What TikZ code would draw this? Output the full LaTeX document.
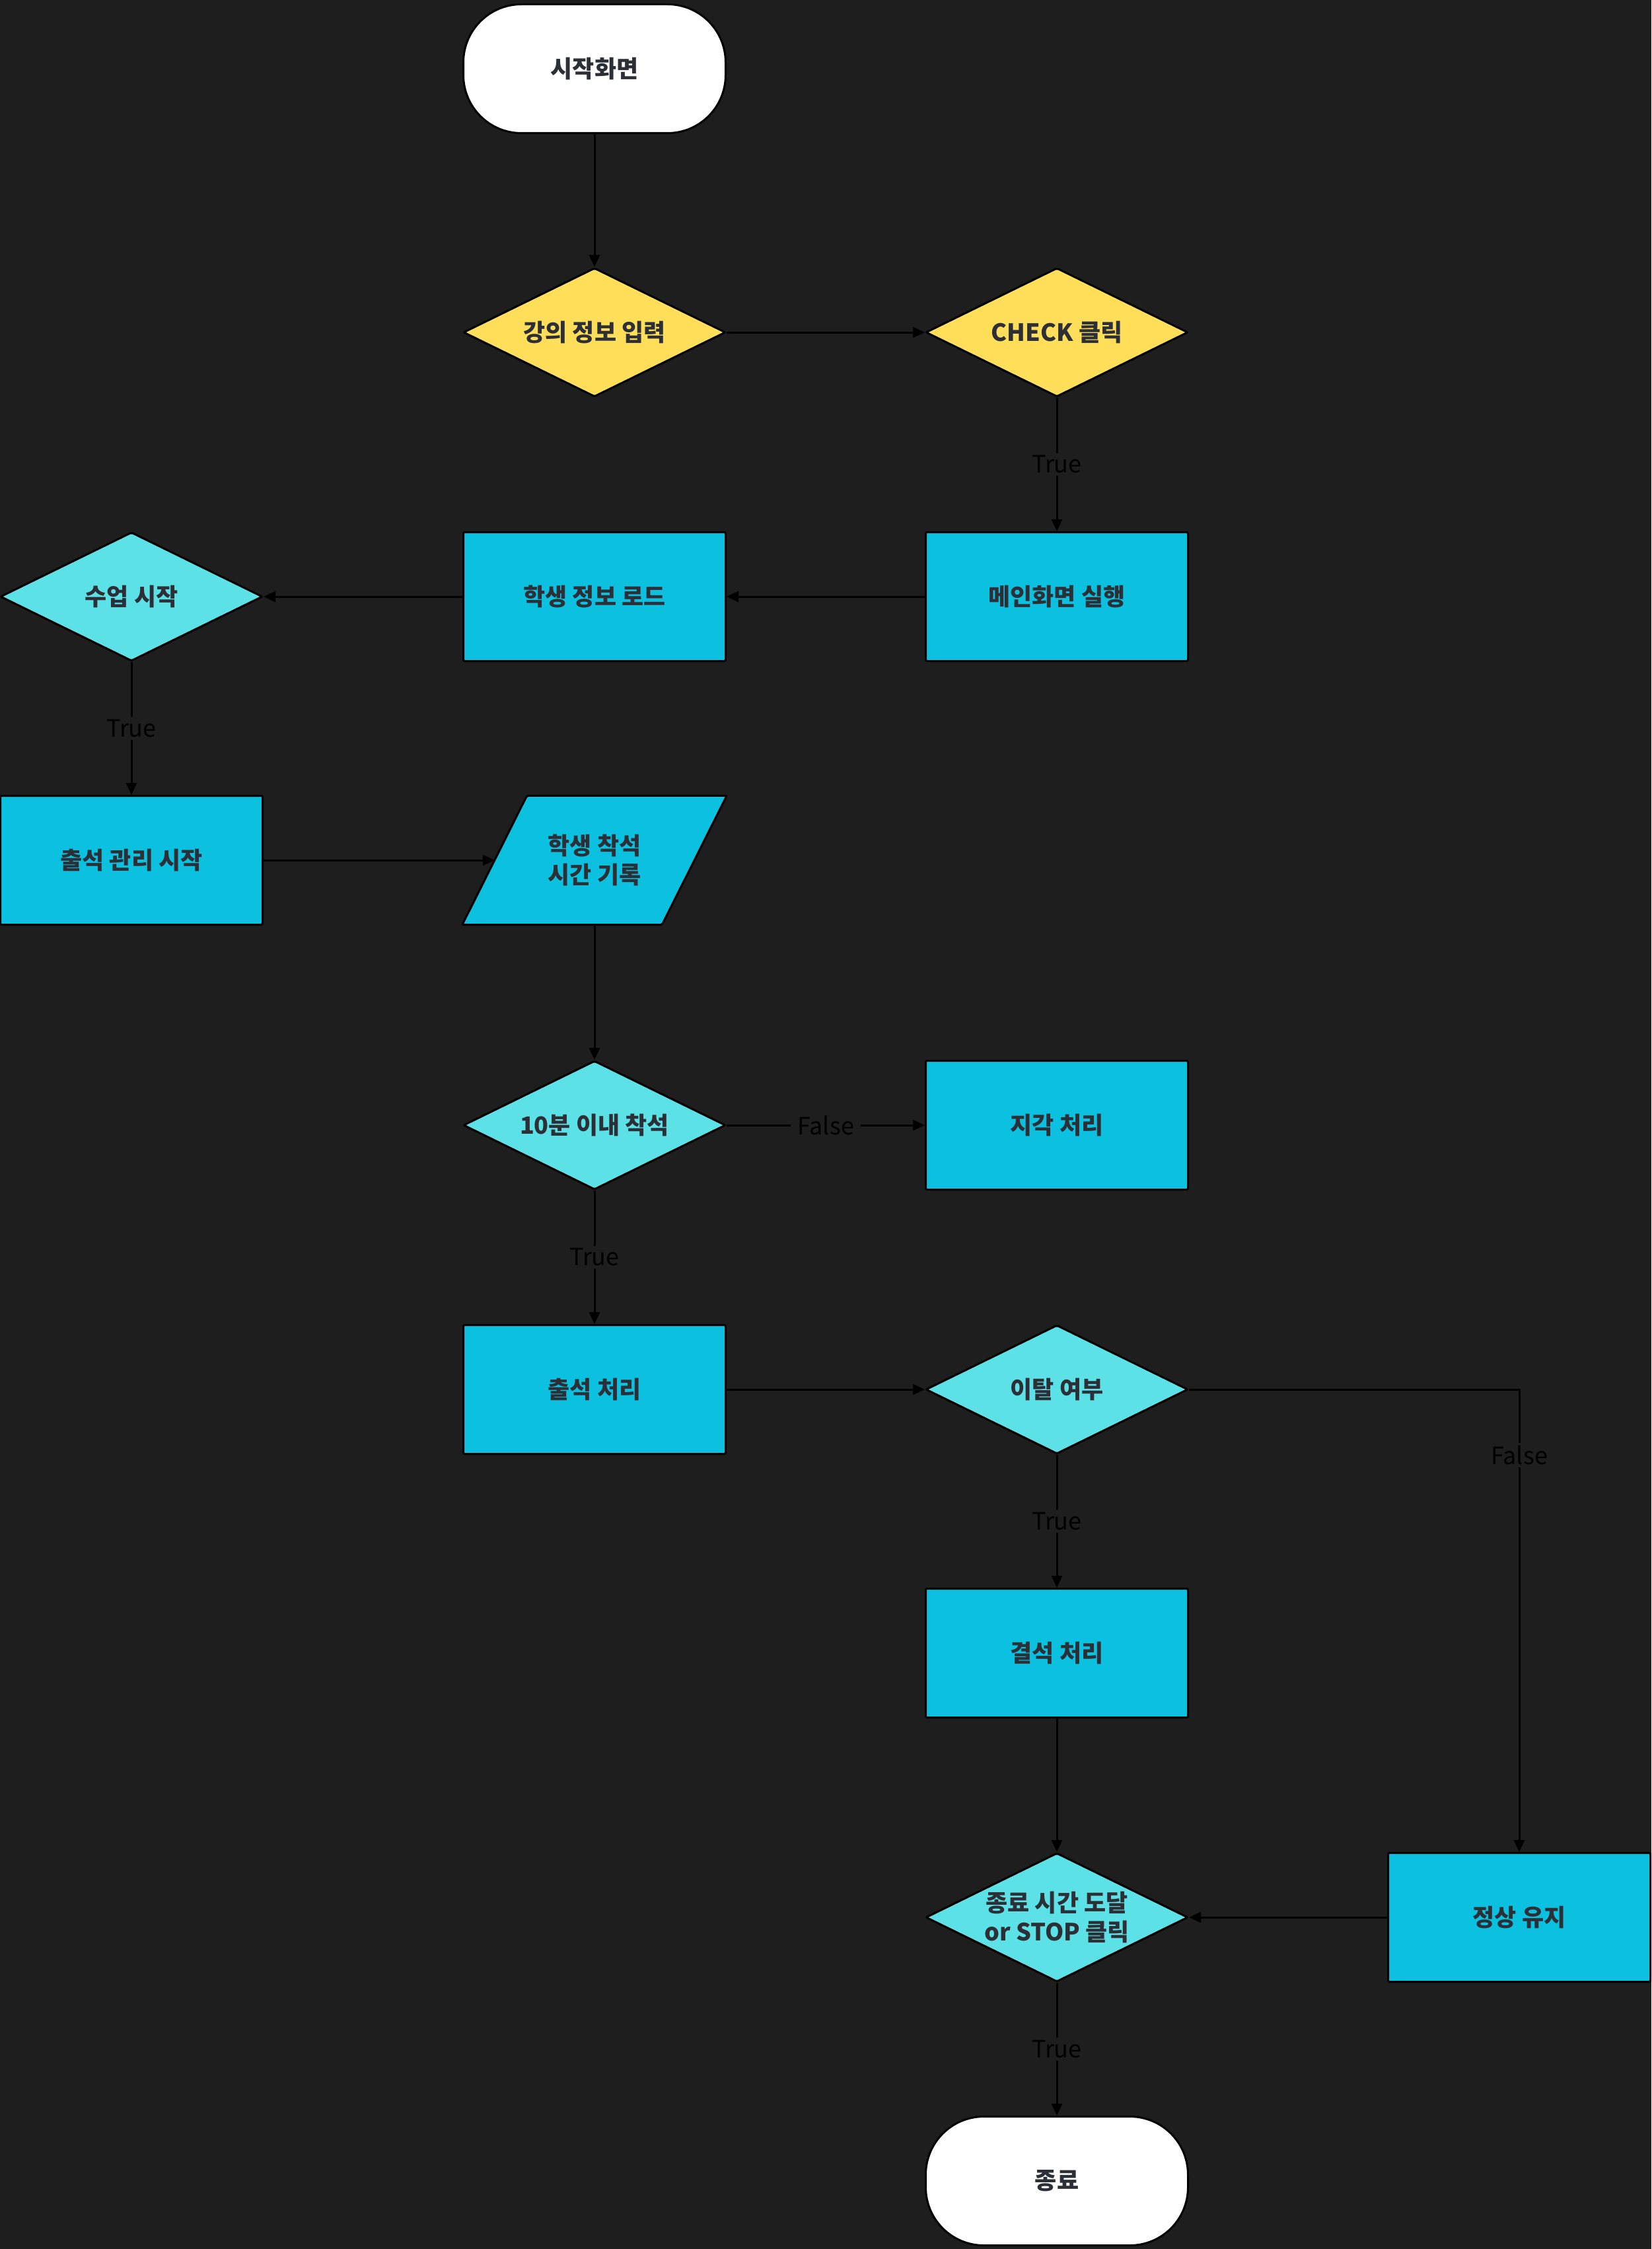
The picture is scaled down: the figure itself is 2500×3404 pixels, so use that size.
\documentclass[tikz,border=0pt]{standalone}
\usepackage{fontspec}
\setmainfont{Noto Sans CJK KR}
\usetikzlibrary{shapes.geometric,arrows.meta,calc,backgrounds}

\definecolor{bgc}{HTML}{1E1E1E}
\definecolor{yel}{HTML}{FFDE59}
\definecolor{procc}{HTML}{0CC0DF}
\definecolor{cyl}{HTML}{5CE1E6}
\definecolor{txt}{HTML}{2C2F36}

\begin{document}
\begin{tikzpicture}[x=1pt,y=-1pt,
  base/.style={draw=black, line width=3pt, text=txt,
    font=\fontsize{36}{44}\selectfont\bfseries, align=center,
    inner sep=0pt, minimum width=397pt, minimum height=195pt},
  term/.style={base, fill=white, rounded corners=88pt},
  procbox/.style={base, fill=procc, rounded corners=2pt},
  decy/.style={base, diamond, aspect=2.04, fill=yel, rounded corners=2pt},
  decc/.style={base, diamond, aspect=2.04, fill=cyl, rounded corners=2pt},
  io/.style={text=txt, font=\fontsize{36}{44}\selectfont\bfseries,
    align=center, inner sep=0pt, minimum width=302pt, minimum height=195pt},
  link/.style={draw=black, line width=3pt, -{Triangle[length=18pt,width=16pt]}},
  lbl/.style={fill=bgc, text=black, font=\fontsize{36}{44}\selectfont,
    inner xsep=10pt, inner ysep=4pt}
]
\useasboundingbox (0,0) rectangle (2500,3404);

% nodes
\node[term]    (start)  at (900,104)   {시작화면};
\node[decy]    (input)  at (900,503)   {강의 정보 입력};
\node[decy]    (check)  at (1600,503)  {CHECK 클릭};
\node[procbox] (main)   at (1600,903)  {메인화면 실행};
\node[procbox] (load)   at (900,903)   {학생 정보 로드};
\node[decc]    (class)  at (199,903)   {수업 시작};
\node[procbox] (manage) at (199,1302)  {출석 관리 시작};
\node[io]      (rec)    at (900,1302)  {학생 착석\\시간 기록};
\node[decc]    (within) at (900,1703)  {10분 이내 착석};
\node[procbox] (late)   at (1600,1703) {지각 처리};
\node[procbox] (attend) at (900,2103)  {출석 처리};
\node[decc]    (leave)  at (1600,2103) {이탈 여부};
\node[procbox] (absent) at (1600,2502) {결석 처리};
\node[decc]    (endq)   at (1600,2902) {종료 시간 도달\\or STOP 클릭};
\node[procbox] (keep)   at (2300,2902) {정상 유지};
\node[term]    (finish) at (1600,3301) {종료};

\begin{scope}[on background layer]
  \fill[bgc] (0,0) rectangle (2500,3404);
  % input/output parallelogram around the record node
  \draw[fill=procc, line width=3pt, rounded corners=2pt]
    ($(rec.north west)+(49,0)$) -- ($(rec.north east)+(49,0)$) --
    ($(rec.south east)+(-49,0)$) -- ($(rec.south west)+(-49,0)$) -- cycle;
\end{scope}

% connectors
\draw[link] (start) -- (input);
\draw[link] (input) -- (check);
\draw[link] (check) -- node[lbl]{True} (main);
\draw[link] (main) -- (load);
\draw[link] (load) -- (class);
\draw[link] (class) -- node[lbl]{True} (manage);
\draw[link] (manage) -- (rec.west);
\draw[link] (rec.south) -- (within);
\draw[link] (within) -- node[lbl]{False} (late);
\draw[link] (within) -- node[lbl]{True} (attend);
\draw[link] (attend) -- (leave);
\draw[link] (leave) -- node[lbl]{True} (absent);
\draw[link] (leave.east) -| node[lbl, pos=0.571]{False} (keep.north);
\draw[link] (absent) -- (endq);
\draw[link] (keep) -- (endq);
\draw[link] (endq) -- node[lbl]{True} (finish);
\end{tikzpicture}
\end{document}
